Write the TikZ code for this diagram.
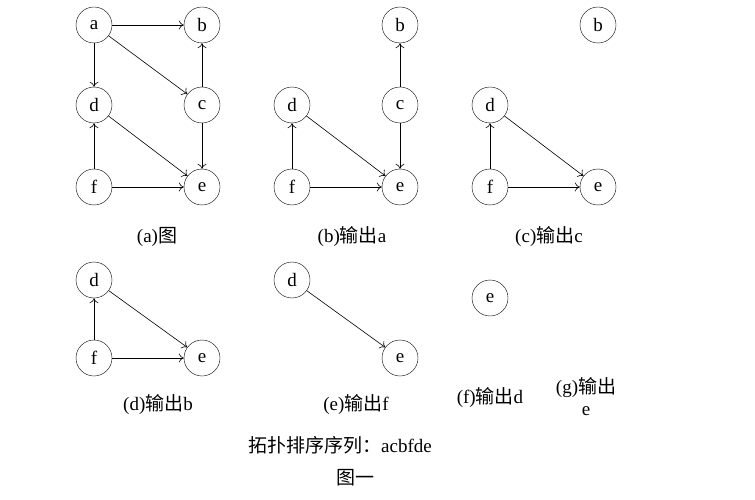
\documentclass[tikz,border=0pt]{standalone}
\usepackage{fontspec}
\setmainfont{Liberation Serif}
\newfontfamily\cjk{Noto Sans CJK SC}
\usetikzlibrary{arrows.meta}
\begin{document}
\begin{tikzpicture}[x=1pt,y=-1pt,
  vtx/.style={circle,draw,minimum size=36pt,inner sep=0pt,font=\fontsize{19}{19}\selectfont},
  arr/.style={-{To[length=5pt,width=9pt]},line width=0.6pt},
  lbl/.style={font=\fontsize{19}{22}\selectfont,align=center}]
\useasboundingbox (0,0) rectangle (755,500);
% (a)
\node[vtx] (aa) at (94,25) {a};
\node[vtx] (ab) at (202,25) {b};
\node[vtx] (ad) at (94,105) {d};
\node[vtx] (ac) at (202,105) {c};
\node[vtx] (af) at (94,187) {f};
\node[vtx] (ae) at (202,187) {e};
\draw[arr] (aa)--(ab); \draw[arr] (aa)--(ad); \draw[arr] (aa)--(ac);
\draw[arr] (ac)--(ab); \draw[arr] (ac)--(ae); \draw[arr] (ad)--(ae);
\draw[arr] (af)--(ad); \draw[arr] (af)--(ae);
% (b)
\node[vtx] (bb) at (400,25) {b};
\node[vtx] (bd) at (292,105) {d};
\node[vtx] (bc) at (400,105) {c};
\node[vtx] (bf) at (292,187) {f};
\node[vtx] (be) at (400,187) {e};
\draw[arr] (bc)--(bb); \draw[arr] (bc)--(be); \draw[arr] (bd)--(be);
\draw[arr] (bf)--(bd); \draw[arr] (bf)--(be);
% (c)
\node[vtx] (cb) at (598,25) {b};
\node[vtx] (cd) at (490,105) {d};
\node[vtx] (cf) at (490,187) {f};
\node[vtx] (ce) at (598,187) {e};
\draw[arr] (cd)--(ce); \draw[arr] (cf)--(cd); \draw[arr] (cf)--(ce);
% (d)
\node[vtx] (dd) at (94,280) {d};
\node[vtx] (df) at (94,358) {f};
\node[vtx] (de) at (202,358) {e};
\draw[arr] (dd)--(de); \draw[arr] (df)--(dd); \draw[arr] (df)--(de);
% (e)
\node[vtx] (ed) at (292,280) {d};
\node[vtx] (ee) at (400,358) {e};
\draw[arr] (ed)--(ee);
% (f)
\node[vtx] (fe) at (490,298) {e};
% labels
\node[lbl] (la) at (157,237) {(a){\cjk 图}};
\node[lbl] (lb) at (352,237) {(b){\cjk 输出}a};
\node[lbl] (lc) at (549,237) {(c){\cjk 输出}c};
\node[lbl] (ld) at (158,405) {(d){\cjk 输出}b};
\node[lbl] (le) at (356,405) {(e){\cjk 输出}f};
\node[lbl] (lf) at (490,398) {(f){\cjk 输出}d};
\node[lbl] (lg) at (586,397) {(g){\cjk 输出}\\e};
\node[lbl] (seq) at (340,445) {{\cjk 拓扑排序序列：}acbfde};
\node[lbl] (fig) at (355,478) {{\cjk 图一}};
\end{tikzpicture}
\end{document}
